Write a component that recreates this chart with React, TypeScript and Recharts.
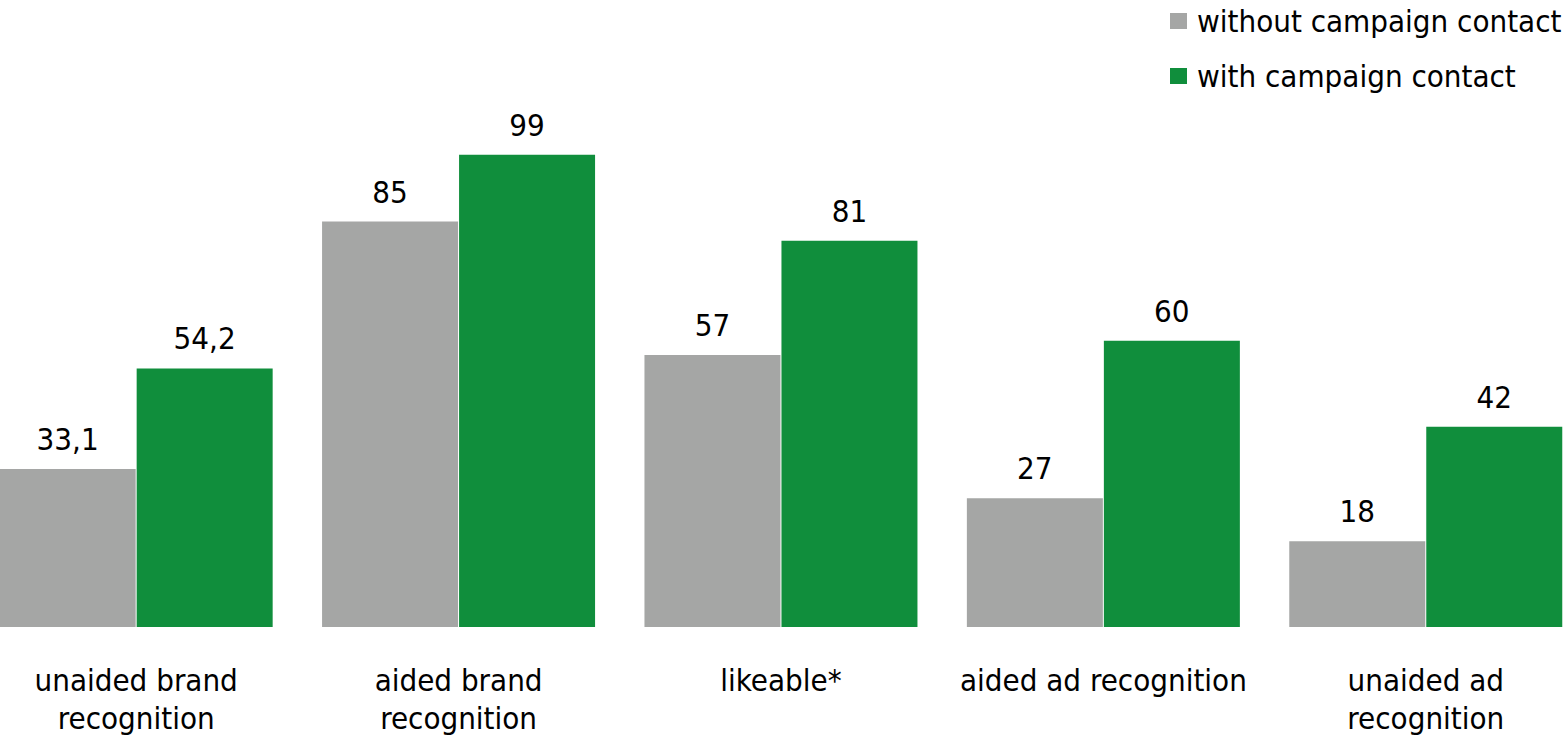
import { BarChart, Bar, XAxis, YAxis, Legend, LabelList } from "recharts";

const categories = [
  "unaided brand\nrecognition",
  "aided brand\nrecognition",
  "likeable*",
  "aided ad recognition",
  "unaided ad\nrecognition",
];
const withoutContact = [33.1, 85, 57, 27, 18];
const withContact = [54.2, 99, 81, 60, 42];
const seriesNames = ["without campaign contact", "with campaign contact"];
const colors = ["#a5a6a5", "#108e3c"];

const data = categories.map((name, i) => ({
  name,
  without: withoutContact[i],
  with: withContact[i],
}));

const FONT = "'DejaVu Sans Condensed', 'DejaVu Sans', sans-serif";

const fmt = (v: any) => String(v).replace(".", ",");

function CategoryTick({ x, payload }: any) {
  const lines = String(payload.value).split("\n");
  // baseline of the plot sits at y = 627
  return (
    <text x={x} y={627} textAnchor="middle" fontFamily={FONT} fontSize={31} fill="#000">
      {lines.map((l, i) => (
        <tspan key={i} x={x} dy={i === 0 ? 64 : 38}>
          {l}
        </tspan>
      ))}
    </text>
  );
}

function LegendBox() {
  return (
    <div style={{ fontFamily: FONT, fontSize: 31, color: "#000" }}>
      {seriesNames.map((n, i) => (
        <div key={n} style={{ display: "flex", alignItems: "center", height: 55 }}>
          <span style={{ width: 17, height: 16, background: colors[i], marginRight: 10 }} />
          <span style={{ whiteSpace: "nowrap" }}>{n}</span>
        </div>
      ))}
    </div>
  );
}

export default function App() {
  return (
    <div style={{ position: "absolute", left: -24.7, top: 0 }}>
      <BarChart
        width={1612}
        height={735}
        data={data}
        margin={{ top: 150, right: 0, bottom: 0, left: 0 }}
        barCategoryGap="7.65%"
        barGap={1}
      >
        <XAxis dataKey="name" axisLine={false} tickLine={false} tick={<CategoryTick />} interval={0} height={108} />
        <YAxis hide domain={[0, 100]} />
        <Legend
          layout="vertical"
          align="center"
          verticalAlign="middle"
          content={<LegendBox />}
          wrapperStyle={{ top: -7, left: 1194.7, width: 420, height: 110 }}
        />
        <Bar dataKey="without" fill={colors[0]} isAnimationActive={false}>
          <LabelList dataKey="without" position="top" offset={19} formatter={fmt} fontFamily={FONT} fontSize={31} fill="#000" />
        </Bar>
        <Bar dataKey="with" fill={colors[1]} isAnimationActive={false}>
          <LabelList dataKey="with" position="top" offset={19} formatter={fmt} fontFamily={FONT} fontSize={31} fill="#000" />
        </Bar>
      </BarChart>
    </div>
  );
}
